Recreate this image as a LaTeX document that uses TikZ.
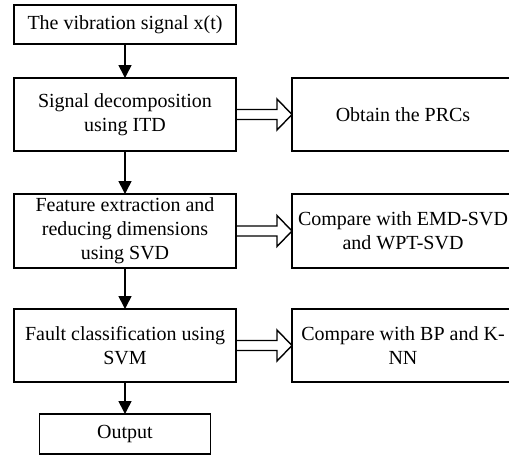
\documentclass[tikz,border=0pt]{standalone}
\usepackage{fontspec}
\setmainfont{Liberation Serif}
\usetikzlibrary{positioning,arrows.meta,calc}

\tikzset{
	box/.style={draw, line width=1.6pt, minimum width=222pt, inner sep=0pt, outer sep=0pt, align=center, font=\fontsize{20}{24}\selectfont},
	arr/.style={line width=1.6pt, -{Triangle[width=13pt,length=13pt]}},
	fat/.style={line width=1.4pt, line join=miter}
}
% hollow arrow from a left box to a right box
\newcommand{\hollowarrow}[2]{%
	\draw[fat] ($(#1.east)+(0,5)$) -- ($(#2.west)+(-15,5)$) -- ($(#2.west)+(-15,15.5)$) -- (#2.west)
	-- ($(#2.west)+(-15,-15.5)$) -- ($(#2.west)+(-15,-5)$) -- ($(#1.east)+(0,-5)$);}

\begin{document}
\begin{tikzpicture}[x=1pt,y=1pt]
	\useasboundingbox (0,0) rectangle (509,-456);
	%% left column
	\node[box, minimum height=39pt] (b1) at (125,-24.5) {The vibration signal x(t)};
	\node[box, minimum height=73pt, below=34pt of b1] (b2) {Signal decomposition\\using ITD};
	\node[box, minimum height=74pt, below=43pt of b2] (b3) {Feature extraction and\\reducing dimensions\\using SVD};
	\node[box, minimum height=73pt, below=41pt of b3] (b4) {Fault classification using\\SVM};
	\node[box, minimum height=40pt, minimum width=171pt, below=32pt of b4] (b5) {Output};
	%% right column
	\node[box, minimum height=73pt, right=56pt of b2] (c1) {Obtain the PRCs};
	\node[box, minimum height=74pt, right=56pt of b3] (c2) {Compare with EMD-SVD\\and WPT-SVD};
	\node[box, minimum height=73pt, right=56pt of b4] (c3) {Compare with BP and K-\\NN};
	% 连线
	\draw[arr] (b1) -- (b2);
	\draw[arr] (b2) -- (b3);
	\draw[arr] (b3) -- (b4);
	\draw[arr] (b4) -- (b5);
	\hollowarrow{b2}{c1}
	\hollowarrow{b3}{c2}
	\hollowarrow{b4}{c3}
\end{tikzpicture}
\end{document}
